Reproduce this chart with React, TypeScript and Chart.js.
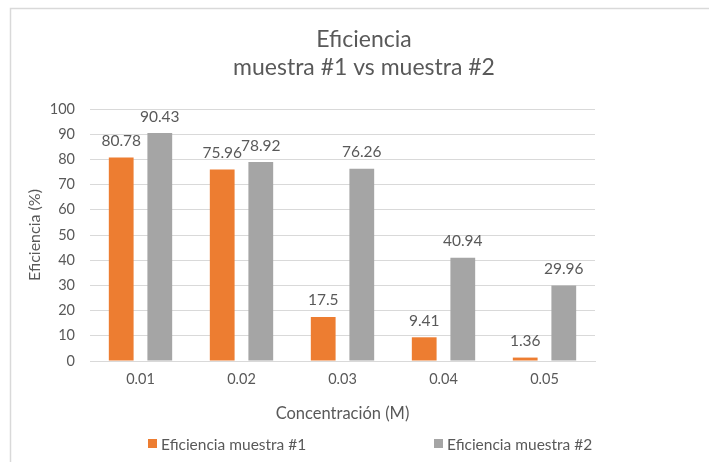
import React, { useEffect, useRef } from "react";
import { Chart, registerables } from "chart.js";

Chart.register(...registerables);

const categories = ["0.01", "0.02", "0.03", "0.04", "0.05"];
const muestra1 = [80.78, 75.96, 17.5, 9.41, 1.36];
const muestra2 = [90.43, 78.92, 76.26, 40.94, 29.96];
const seriesNames = ["Eficiencia muestra #1", "Eficiencia muestra #2"];
const seriesColors = ["#ED7D31", "#A5A5A5"];
const titleLines = ["Eficiencia", "muestra #1 vs muestra #2"];
const xTitle = "Concentración (M)";
const yTitle = "Eficiencia (%)";
const yMin = 0;
const yMax = 100;
const yStep = 10;

const FONT = "Lato";
const TEXT = "#595959";
const GRID = "#D9D9D9";

const framePlugin = {
  id: "frame",
  beforeDraw(chart: any) {
    const { ctx, width, height } = chart;
    ctx.save();
    ctx.fillStyle = "#ffffff";
    ctx.fillRect(0, 0, width, height);
    ctx.strokeStyle = GRID;
    ctx.lineWidth = 1.5;
    ctx.beginPath();
    ctx.moveTo(10.5, height);
    ctx.lineTo(10.5, 8.5);
    ctx.lineTo(width, 8.5);
    ctx.stroke();
    ctx.restore();
  },
};

const dataLabelPlugin = {
  id: "dataLabels",
  afterDatasetsDraw(chart: any) {
    const { ctx } = chart;
    ctx.save();
    ctx.fillStyle = TEXT;
    ctx.font = `15.5px ${FONT}`;
    ctx.textAlign = "center";
    ctx.textBaseline = "alphabetic";
    chart.data.datasets.forEach((ds: any, i: number) => {
      const meta = chart.getDatasetMeta(i);
      meta.data.forEach((el: any, j: number) => {
        ctx.fillText(String(ds.data[j]), el.x, el.y - 11.5);
      });
    });
    ctx.restore();
  },
};

const legendPlugin = {
  id: "customLegend",
  afterDraw(chart: any) {
    const { ctx } = chart;
    const starts = [148, 434];
    const cy = 443.5;
    ctx.save();
    ctx.font = `15.5px ${FONT}`;
    ctx.textAlign = "left";
    ctx.textBaseline = "alphabetic";
    chart.data.datasets.forEach((ds: any, i: number) => {
      const x = starts[i];
      ctx.fillStyle = ds.backgroundColor;
      ctx.fillRect(x, cy - 4.5, 9, 9);
      ctx.fillStyle = TEXT;
      ctx.fillText(ds.label, x + 13, 450);
    });
    ctx.restore();
  },
};

export default function App() {
  const ref = useRef<HTMLCanvasElement | null>(null);

  useEffect(() => {
    document.body.style.margin = "0";
    document.body.style.background = "#ffffff";
    const canvas = ref.current;
    if (!canvas) return;
    const chart = new Chart(canvas, {
      type: "bar",
      data: {
        labels: categories,
        datasets: [
          {
            label: seriesNames[0],
            data: muestra1,
            backgroundColor: seriesColors[0],
            categoryPercentage: 0.764,
            barPercentage: 0.642,
          },
          {
            label: seriesNames[1],
            data: muestra2,
            backgroundColor: seriesColors[1],
            categoryPercentage: 0.764,
            barPercentage: 0.642,
          },
        ],
      },
      options: {
        responsive: false,
        animation: false,
        devicePixelRatio: 1,
        layout: { padding: { top: 8, left: 10, right: 0, bottom: 38 } },
        plugins: {
          legend: { display: false },
          tooltip: { enabled: false },
          title: {
            display: true,
            text: titleLines,
            color: TEXT,
            font: { family: FONT, size: 23, weight: "normal", lineHeight: 1.2 },
            padding: { top: 18, bottom: 27.8 },
          },
        },
        scales: {
          x: {
            grid: { display: false, drawTicks: false },
            border: { display: true, color: GRID },
            ticks: { color: TEXT, font: { family: FONT, size: 14.5 }, padding: 10 },
            title: {
              display: true,
              text: xTitle,
              color: TEXT,
              font: { family: FONT, size: 16.5 },
              padding: { top: 0, bottom: 0 },
            },
            afterFit(s: any) {
              s.height = 63;
            },
          },
          y: {
            min: yMin,
            max: yMax,
            grid: { color: GRID, drawTicks: false },
            border: { display: false },
            ticks: { stepSize: yStep, color: TEXT, font: { family: FONT, size: 14.5 }, padding: 15 },
            title: {
              display: true,
              text: yTitle,
              color: TEXT,
              font: { family: FONT, size: 16 },
              padding: { top: 15.4, bottom: 0 },
            },
            afterFit(s: any) {
              s.width = 80;
            },
          },
          yRight: {
            type: "linear",
            position: "right",
            display: true,
            grid: { display: false, drawTicks: false },
            border: { display: false },
            ticks: { display: false },
            afterFit(s: any) {
              s.width = 123;
            },
          },
        },
      },
      plugins: [framePlugin, dataLabelPlugin, legendPlugin],
    } as any);
    return () => chart.destroy();
  }, []);

  return (
    <div style={{ position: "fixed", left: 0, top: 0, width: 709, height: 462, overflow: "hidden", background: "#fff" }}>
      <canvas ref={ref} width={718} height={462} style={{ display: "block" }} />
    </div>
  );
}
